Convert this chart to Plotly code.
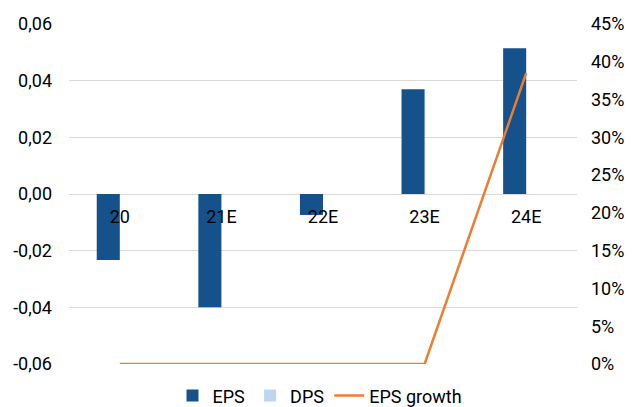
import plotly.graph_objects as go

categories = ["20", "21E", "22E", "23E", "24E"]
eps = [-0.0233, -0.0400, -0.0074, 0.0370, 0.0514]
dps = [0, 0, 0, 0, 0]
eps_growth = [0, 0, 0, 0, 38.5]

left_tick_vals = [-0.06, -0.04, -0.02, 0.0, 0.02, 0.04, 0.06]
left_tick_text = ["-0,06", "-0,04", "-0,02", "0,00", "0,02", "0,04", "0,06"]
right_tick_vals = [0, 5, 10, 15, 20, 25, 30, 35, 40, 45]
right_tick_text = ["0%", "5%", "10%", "15%", "20%", "25%", "30%", "35%", "40%", "45%"]

fig = go.Figure()
fig.add_trace(go.Bar(x=categories, y=eps, name="EPS", marker_color="#15528B",
                     marker_line_width=0, yaxis="y"))
fig.add_trace(go.Bar(x=categories, y=dps, name="DPS", marker_color="#BDD5EE",
                     marker_line_width=0, yaxis="y"))
fig.add_trace(go.Scatter(x=categories, y=eps_growth, name="EPS growth", mode="lines",
                         line=dict(color="#ED7D31", width=2.5), yaxis="y2"))

# the page body adds an 8px margin, so the figure is sized to fit inside the window
fig.update_layout(
    width=624, height=399,
    margin=dict(l=61, r=55, t=16, b=43),
    paper_bgcolor="white", plot_bgcolor="white",
    font=dict(family="Roboto", size=18, color="#000000"),
    separators=", ",
    barmode="group", bargap=0.546, bargroupgap=0,
    showlegend=True,
    legend=dict(orientation="h", x=0.5, xanchor="center", xref="container",
                y=0.028, yanchor="middle", yref="container",
                font=dict(size=18), itemwidth=30, traceorder="normal",
                tracegroupgap=0, bgcolor="rgba(0,0,0,0)"),
    xaxis=dict(anchor="free", position=0.5, showline=False, ticks="", showgrid=False,
               ticklabelstandoff=10, zeroline=False, automargin=False),
    yaxis=dict(range=[-0.06, 0.06], tickvals=left_tick_vals, ticktext=left_tick_text,
               showgrid=True, gridcolor="#D9D9D9", gridwidth=1, zeroline=False,
               showline=False, ticks="", ticklabelstandoff=16, automargin=False),
    yaxis2=dict(range=[0, 45], tickvals=right_tick_vals, ticktext=right_tick_text,
                overlaying="y", side="right", showgrid=False, zeroline=False,
                showline=False, ticks="", ticklabelstandoff=13, automargin=False),
)

fig.write_html("out.html")
